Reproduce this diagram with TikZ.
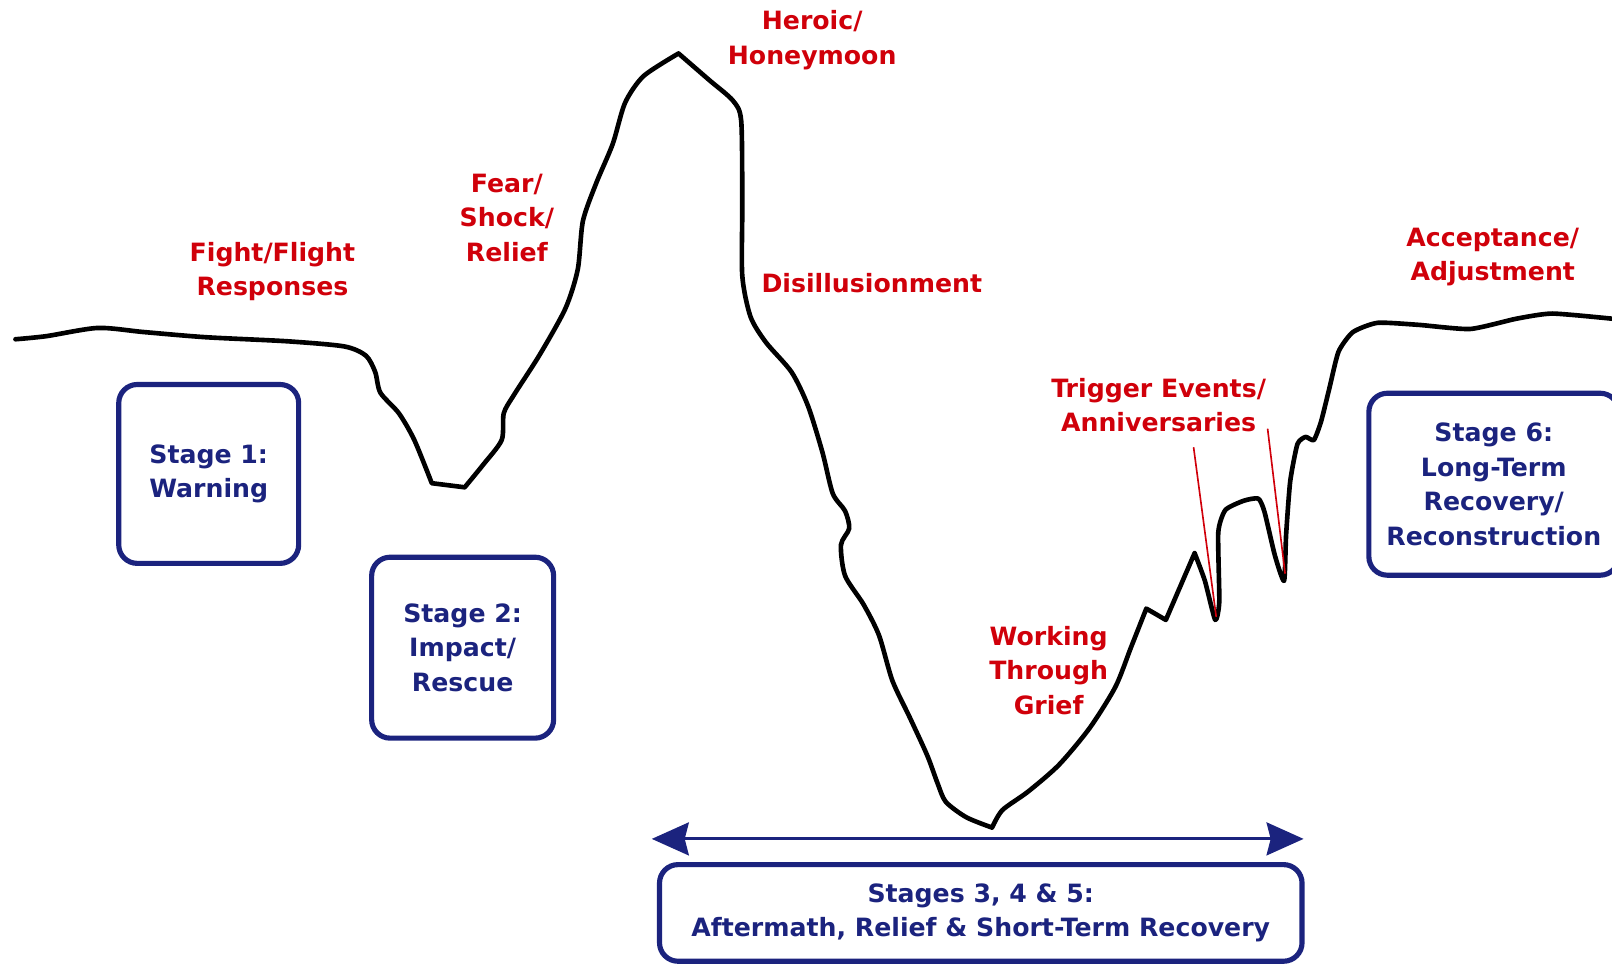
\documentclass[tikz,border=0pt]{standalone}
\usepackage{fontspec}
\setmainfont{DejaVu Sans}
\usepackage{tikz}
\usetikzlibrary{arrows.meta,positioning}
\definecolor{navy}{HTML}{1B237E}
\definecolor{crimson}{HTML}{D0000A}
\tikzset{
  phase/.style={text=crimson, font=\bfseries\fontsize{24.5}{33.5}\selectfont,
    align=center, inner sep=0pt},
  stagebox/.style={draw=navy, line width=5pt, rounded corners=18pt, text=navy,
    font=\bfseries\fontsize{24.5}{33.5}\selectfont, align=center, inner sep=0pt},
  pointer/.style={crimson, line width=1.6pt},
}
\begin{document}
\begin{tikzpicture}[x=1pt,y=-1pt]
  \useasboundingbox (0,0) rectangle (1568,939);

  % the curve
  \draw[line width=4.5pt, line join=round, line cap=round]
    plot[smooth, tension=0.45] coordinates {
      (15,330) (45,327) (95,319) (140,323) (200,328) (280,332) (335,337)
      (356,346) (365,362) (370,382) (388,402) (403,428) (420,470)}
    -- (452,474)
    plot[smooth, tension=0.45] coordinates {
      (452,474) (470,452) (488,428) (490,402) (500,384) (525,345)
      (550,300) (562,262) (567,215) (580,178) (596,140) (608,100)
      (626,74) (660,52)}
    plot[smooth, tension=0.45] coordinates {
      (660,52) (690,78) (713,98) (721,118) (722,200) (722,268)
      (730,308) (745,333) (770,362) (786,395) (800,440) (810,480)
      (822,497) (826,514) (818,530) (822,560) (840,588) (855,618)
      (868,662) (885,698) (902,735) (912,762) (920,780) (940,795) (965,805)}
    plot[smooth, tension=0.45] coordinates {
      (965,805) (975,788) (1000,770) (1030,744) (1060,708) (1085,668)
      (1100,630) (1115,592)}
    -- (1122,596) -- (1134,603) -- (1162,538)
    plot[smooth, tension=0.35] coordinates {
      (1162,538) (1172,565) (1182,603) (1186,585) (1185,518) (1192,496)
      (1210,487) (1224,485) (1230,498) (1240,540) (1249,565) (1251,520)
      (1255,468) (1262,432) (1270,425) (1278,428) (1285,410)
      (1293,378) (1302,342) (1316,323) (1340,314) (1380,316)
      (1430,320) (1475,310) (1510,305) (1568,310)};

  % stage boxes
  \node[stagebox, minimum width=175pt, minimum height=174pt] (stageone)
    at (203,461) {Stage 1:\\Warning};
  \node[stagebox, minimum width=177pt, minimum height=176pt] (stagetwo)
    at (450,630) {Stage 2:\\Impact/\\Rescue};
  \node[stagebox, minimum width=243pt, minimum height=177pt] (stagesix)
    at (1453,471) {Stage 6:\\Long-Term\\Recovery/\\Reconstruction};
  \node[stagebox, minimum width=625pt, minimum height=94pt] (stagesmid)
    at (954,888) {Stages 3, 4 \& 5:\\Aftermath, Relief \& Short-Term Recovery};

  % phase labels
  \node[phase] (fight) at (265,264) {Fight/Flight\\Responses};
  \node[phase] (fear) at (493,212) {Fear/\\Shock/\\Relief};
  \node[phase] (heroic) at (790,39) {Heroic/\\Honeymoon};
  \node[phase] (disill) at (848,275) {Disillusionment};
  \node[phase] (trigger) at (1127,394) {Trigger Events/\\Anniversaries};
  \node[phase] (grief) at (1020,652) {Working\\Through\\Grief};
  \node[phase] (accept) at (1452,250) {Acceptance/\\Adjustment};

  % pointers to the dips
  \coordinate (dipA) at (1183,600);
  \coordinate (dipB) at (1250,558);
  \coordinate (trigA) at (1161,435);
  \coordinate (trigB) at (1233,417);
  \draw[pointer] (trigA) -- (dipA);
  \draw[pointer] (trigB) -- (dipB);

  % span of stages 3-5
  \coordinate (arrL) at (634,816);
  \coordinate (arrR) at (1268,816);
  \draw[navy, line width=3pt,
    {Stealth[length=36pt,width=32pt,inset=4pt]}-{Stealth[length=36pt,width=32pt,inset=4pt]}]
    (arrL) -- (arrR);
\end{tikzpicture}
\end{document}
